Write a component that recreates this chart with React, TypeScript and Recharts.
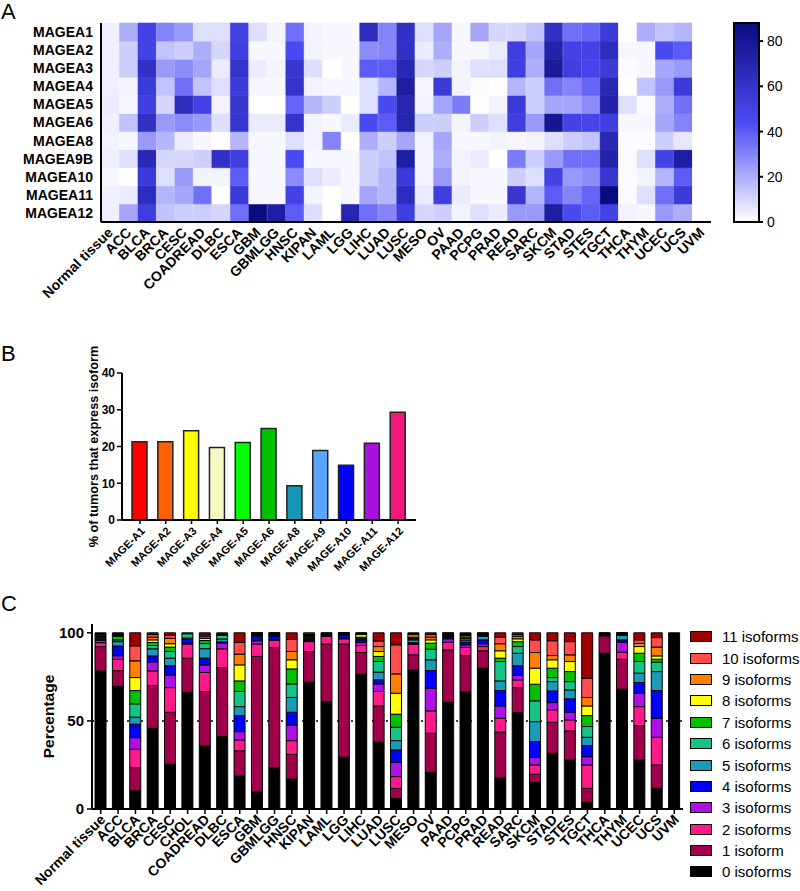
import React from 'react'
import { BarChart, Bar, Cell, XAxis, YAxis, CartesianGrid, Legend } from 'recharts'

const FONT = '"Liberation Sans", Arial, sans-serif'

// ---- Panel A: heatmap ----
const heatTumors = ['Normal tissue', 'ACC', 'BLCA', 'BRCA', 'CESC', 'COADREAD', 'DLBC', 'ESCA', 'GBM', 'GBMLGG', 'HNSC', 'KIPAN', 'LAML', 'LGG', 'LIHC', 'LUAD', 'LUSC', 'MESO', 'OV', 'PAAD', 'PCPG', 'PRAD', 'READ', 'SARC', 'SKCM', 'STAD', 'STES', 'TGCT', 'THCA', 'THYM', 'UCEC', 'UCS', 'UVM']
const MAGEA1 = [4, 20, 50, 30, 25, 8, 8, 50, 8, 3, 35, 3, 2, 2, 65, 30, 62, 8, 22, 2, 22, 10, 10, 15, 62, 35, 38, 55, 0, 20, 15, 18, 0]
const MAGEA2 = [4, 12, 50, 15, 12, 20, 10, 52, 2, 2, 45, 3, 2, 2, 28, 30, 62, 5, 20, 2, 2, 5, 52, 22, 72, 50, 50, 65, 2, 2, 45, 40, 0]
const MAGEA3 = [4, 12, 62, 25, 28, 22, 5, 60, 5, 3, 58, 8, 0, 2, 40, 40, 68, 10, 12, 3, 8, 8, 52, 20, 78, 52, 48, 55, 1, 2, 22, 25, 0]
const MAGEA4 = [4, 3, 55, 15, 35, 15, 8, 55, 2, 2, 60, 3, 2, 2, 8, 18, 75, 2, 55, 3, 1, 0, 18, 12, 35, 30, 38, 68, 0, 15, 25, 55, 0]
const MAGEA5 = [5, 2, 52, 10, 65, 50, 3, 58, 0, 0, 38, 18, 12, 0, 8, 45, 70, 3, 22, 32, 0, 3, 55, 12, 22, 22, 28, 72, 8, 1, 20, 35, 0]
const MAGEA6 = [4, 15, 62, 25, 28, 25, 8, 58, 5, 5, 60, 3, 2, 5, 45, 40, 70, 12, 12, 3, 12, 8, 52, 25, 80, 50, 48, 52, 2, 2, 22, 30, 0]
const MAGEA8 = [3, 2, 25, 18, 5, 2, 0, 18, 2, 2, 8, 3, 30, 0, 20, 12, 22, 3, 22, 2, 2, 3, 2, 3, 8, 12, 15, 68, 1, 1, 12, 6, 0]
const MAGEA9B = [4, 8, 68, 10, 10, 12, 62, 52, 2, 2, 45, 2, 2, 2, 12, 15, 75, 3, 20, 3, 5, 0, 32, 12, 25, 35, 35, 72, 1, 8, 50, 75, 0]
const MAGEA10 = [2, 0, 55, 8, 25, 3, 3, 40, 2, 2, 28, 8, 5, 2, 12, 18, 55, 3, 25, 3, 2, 2, 12, 8, 50, 25, 28, 58, 1, 3, 18, 40, 0]
const MAGEA11 = [4, 5, 65, 18, 22, 35, 0, 55, 2, 2, 50, 3, 0, 2, 22, 18, 65, 5, 52, 5, 2, 2, 58, 18, 40, 30, 38, 88, 1, 8, 35, 55, 0]
const MAGEA12 = [4, 22, 52, 15, 12, 12, 10, 35, 88, 75, 40, 8, 0, 70, 35, 30, 52, 10, 12, 3, 8, 5, 25, 25, 75, 45, 40, 50, 3, 2, 25, 20, 0]
// bottom to top
const geneNames = ['MAGEA12', 'MAGEA11', 'MAGEA10', 'MAGEA9B', 'MAGEA8', 'MAGEA6', 'MAGEA5', 'MAGEA4', 'MAGEA3', 'MAGEA2', 'MAGEA1']
const geneRows = [MAGEA12, MAGEA11, MAGEA10, MAGEA9B, MAGEA8, MAGEA6, MAGEA5, MAGEA4, MAGEA3, MAGEA2, MAGEA1]
const heatMax = 88
const heatTicks = [0, 20, 40, 60, 80]

// ---- Panel B ----
const isoNames = ['MAGE-A1', 'MAGE-A2', 'MAGE-A3', 'MAGE-A4', 'MAGE-A5', 'MAGE-A6', 'MAGE-A8', 'MAGE-A9', 'MAGE-A10', 'MAGE-A11', 'MAGE-A12']
const isoPct = [21.3, 21.3, 24.3, 19.7, 21.1, 24.9, 9.3, 18.9, 14.9, 20.9, 29.3]
const isoColors = ['#ff0000', '#ff6000', '#ffff00', '#f6f8c4', '#00ff00', '#00c000', '#1496b4', '#5aa5ff', '#0000ff', '#a812e0', '#f0187c']

// ---- Panel C ----
const stackTumors = ['Normal tissue', 'ACC', 'BLCA', 'BRCA', 'CESC', 'CHOL', 'COADREAD', 'DLBC', 'ESCA', 'GBM', 'GBMLGG', 'HNSC', 'KIPAN', 'LAML', 'LGG', 'LIHC', 'LUAD', 'LUSC', 'MESO', 'OV', 'PAAD', 'PCPG', 'PRAD', 'READ', 'SARC', 'SKCM', 'STAD', 'STES', 'TGCT', 'THCA', 'THYM', 'UCEC', 'UCS', 'UVM']
const iso0 = [78.4, 69.5, 10.4, 45.8, 25.4, 66.3, 35.8, 41.1, 18.8, 9.8, 23.5, 17, 72, 61, 29.4, 76.5, 37.9, 6, 79, 20.8, 60.6, 66.7, 80, 17.8, 54.7, 15, 31.6, 27.8, 3.8, 88.4, 68, 27.8, 11.7, 100]
const iso1 = [13.8, 9, 13.1, 24.3, 29.5, 19.3, 30.9, 39.2, 14.2, 76.8, 68.2, 14, 17.4, 32.6, 64.2, 12.3, 20.6, 5.7, 8.5, 22.2, 29.7, 20.4, 9.8, 25.8, 14.2, 4.7, 17.6, 16.5, 7.9, 9.9, 17, 19.5, 13.3, 0]
const iso2 = [2.2, 6.5, 10.4, 8.3, 14, 8, 10.8, 10.6, 6.2, 7, 4, 7.8, 5.6, 4.3, 3, 4, 8.2, 6.7, 5.9, 12.7, 4.4, 4.6, 2.4, 7.9, 4.4, 5.3, 7.1, 6.3, 13.3, 0.3, 4, 10.8, 15.7, 0]
const iso3 = [1.4, 2, 6.6, 5.1, 7.2, 0.5, 4.3, 3.4, 4.7, 1.9, 0.5, 8.9, 0.5, 0.3, 0.5, 1.7, 4.3, 8.1, 0.5, 12.9, 1.9, 1.5, 1.6, 7, 2.5, 4.2, 4.1, 4.3, 4.7, 0.2, 5.7, 7.6, 10.8, 0]
const iso4 = [0.8, 5.5, 7.6, 3.4, 5.2, 2.4, 3.8, 0.5, 9.1, 2.5, 2, 7.2, 0.5, 0.3, 1.5, 1.5, 2.3, 7, 0.5, 10, 0.8, 1.5, 2.2, 8.7, 5.5, 9.1, 6.6, 7.6, 6.3, 0.2, 1.3, 6.1, 15.7, 0]
const iso5 = [0.6, 2.5, 4, 4, 4.3, 0.5, 5.4, 1.7, 5.1, 0.5, 0.5, 8.4, 0.5, 0.3, 0.4, 0.5, 4.4, 5.3, 1.6, 6.1, 0.5, 1.2, 2, 5.5, 7.1, 11.3, 5.3, 5.1, 4.7, 0.2, 2.5, 5.3, 10.8, 0]
const iso6 = [0.6, 1, 7.6, 1.9, 3.8, 2.5, 2.9, 2, 8.6, 0.5, 0.3, 7.7, 0.5, 0.3, 0.3, 0.5, 6, 7.6, 0.5, 6, 0.5, 1, 0.5, 11, 3.8, 11.8, 2.3, 4.7, 6.1, 0.2, 0.5, 6.6, 5.3, 0]
const iso7 = [0.5, 2, 7.5, 1.7, 2.5, 0.5, 1.7, 0.5, 6, 0.3, 0.3, 8.5, 0.5, 0.3, 0.2, 0.5, 2.9, 7.4, 0.5, 3.4, 0.5, 0.8, 0.5, 1.9, 2.8, 9.4, 5.3, 5.7, 6.2, 0.1, 0.3, 4.7, 1.7, 0]
const iso8 = [0.5, 0.5, 7.4, 1.5, 1.9, 0, 1.2, 0.5, 9.1, 0.2, 0.2, 5.2, 0.5, 0.2, 0.2, 1.5, 2.8, 11.9, 0.5, 1.9, 0.3, 0.8, 0.3, 4.2, 1.6, 9.1, 4.8, 5.7, 5.5, 0.1, 0.2, 3.8, 1.9, 0]
const iso9 = [0.4, 0.5, 9.5, 1.5, 3.1, 0, 1, 0.5, 6.1, 0.2, 0.2, 4.7, 0.5, 0.2, 0.1, 0.5, 2.8, 11, 1.5, 1.5, 0.3, 0.5, 0.3, 4, 1.4, 8.9, 2.4, 3.8, 4.8, 0.1, 0.2, 1.8, 5, 0]
const iso10 = [0.4, 0.5, 8.5, 1.5, 1.6, 0, 1, 0, 6.6, 0.2, 0.2, 6.8, 0.5, 0.2, 0.1, 0.3, 3.1, 16.5, 0.5, 1.5, 0.3, 0.5, 0.2, 3.7, 1, 7.2, 8.4, 7.5, 10.9, 0.1, 0.2, 2, 5.4, 0]
const iso11 = [0.4, 0.5, 7.4, 1, 1.5, 0, 1.2, 0, 5.5, 0.1, 0.1, 3.8, 1, 0, 0.1, 0.2, 4.7, 6.8, 0.5, 1, 0.2, 0.5, 0.2, 2.5, 1, 4, 4.5, 5, 25.8, 0.2, 0.1, 4, 2.7, 0]
const isoSeries = [iso0, iso1, iso2, iso3, iso4, iso5, iso6, iso7, iso8, iso9, iso10, iso11]
const isoLabels = ['0 isoforms', '1 isoform', '2 isoforms', '3 isoforms', '4 isoforms', '5 isoforms', '6 isoforms', '7 isoforms', '8 isoforms', '9 isoforms', '10 isoforms', '11 isoforms']
const isoFill = ['#000000', '#a0004a', '#ff1a8c', '#b010e8', '#0000ff', '#1a9bb8', '#14c487', '#00c000', '#ffff00', '#ff8000', '#ff4d4d', '#a00000']

// white -> blue -> navy
const colorStops: [number, number[]][] = [
  [0, [255, 255, 255]],
  [44, [75, 75, 245]],
  [88, [11, 11, 128]],
]
function heatColor(v: number) {
  for (let i = 1; i < colorStops.length; i++) {
    const [v1, c1] = colorStops[i]
    const [v0, c0] = colorStops[i - 1]
    if (v <= v1 || i === colorStops.length - 1) {
      const t = Math.max(0, Math.min(1, (v - v0) / (v1 - v0)))
      const c = c0.map((a, k) => Math.round(a + (c1[k] - a) * t))
      return `rgb(${c[0]},${c[1]},${c[2]})`
    }
  }
  return '#fff'
}

const heatData = heatTumors.map((name, i) => {
  const row: Record<string, any> = { name }
  geneRows.forEach((arr, j) => {
    row['u' + j] = 1
    row['v' + j] = arr[i]
  })
  return row
})

const barData = isoNames.map((name, i) => ({ name, pct: isoPct[i] }))

const stackData = stackTumors.map((name, i) => {
  const row: Record<string, any> = { name }
  isoSeries.forEach((arr, k) => { row['i' + k] = arr[i] })
  return row
})

const RotTick = (props: any) => {
  const { x, y, payload, fontSize, shiftX = 0, shiftY = 0 } = props
  return (
    <g transform={`translate(${x + shiftX},${y + shiftY})`}>
      <text transform="rotate(-45)" textAnchor="end" dy="0.35em" fontSize={fontSize} fontWeight="bold" fill="#000" fontFamily={FONT}>
        {payload.value}
      </text>
    </g>
  )
}

const axisLine = { stroke: '#000', strokeWidth: 2 }

function Heatmap() {
  return (
    <BarChart width={720} height={330} data={heatData} margin={{ top: 23, right: 9, left: 0, bottom: 0 }} barCategoryGap={0}>
      <XAxis dataKey="name" interval={0} height={108} tickLine={false} axisLine={axisLine} tick={<RotTick fontSize={14} />} />
      <XAxis xAxisId="top" orientation="top" dataKey="name" height={0} tick={false} tickLine={false} axisLine={axisLine} />
      <YAxis
        type="number"
        domain={[0, 11]}
        ticks={geneNames.map((_, j) => j + 0.5)}
        interval={0}
        tickFormatter={(v) => geneNames[Math.floor(v)]}
        width={101}
        tickLine={false}
        axisLine={axisLine}
        tick={{ fontSize: 14, fontWeight: 'bold', fill: '#000', fontFamily: FONT }}
      />
      <YAxis yAxisId="right" orientation="right" type="number" domain={[0, 11]} width={0} tick={false} tickLine={false} axisLine={axisLine} />
      {geneNames.map((g, j) => (
        <Bar key={g} dataKey={'u' + j} stackId="h" isAnimationActive={false}>
          {heatData.map((d, i) => (
            <Cell key={i} fill={heatColor(d['v' + j])} stroke={heatColor(d['v' + j])} strokeWidth={0.6} />
          ))}
        </Bar>
      ))}
    </BarChart>
  )
}

function ColorBar() {
  return (
    <BarChart width={80} height={240} data={[{ name: 'scale', max: heatMax }]} margin={{ top: 23, right: 0, left: 14, bottom: 18 }} barCategoryGap={0}>
      <defs>
        <linearGradient id="hmGrad" x1="0" y1="1" x2="0" y2="0">
          {colorStops.map(([v, c]) => (
            <stop key={v} offset={v / heatMax} stopColor={`rgb(${c[0]},${c[1]},${c[2]})`} />
          ))}
        </linearGradient>
      </defs>
      <XAxis dataKey="name" hide />
      <YAxis
        orientation="right"
        type="number"
        domain={[0, heatMax]}
        ticks={heatTicks}
        interval={0}
        width={41}
        axisLine={false}
        tickSize={4}
        tickMargin={4}
        tickLine={{ stroke: '#000', strokeWidth: 2 }}
        tick={{ fontSize: 14, fill: '#000', fontFamily: FONT }}
      />
      <Bar dataKey="max" fill="url(#hmGrad)" stroke="#000" strokeWidth={2} isAnimationActive={false} />
    </BarChart>
  )
}

function PctBars() {
  return (
    <BarChart width={430} height={260} data={barData} margin={{ top: 43, right: 14, left: 0, bottom: 0 }}>
      <XAxis
        dataKey="name"
        interval={0}
        height={70}
        padding={{ left: 5, right: 5 }}
        axisLine={axisLine}
        tickSize={4}
        tickLine={{ stroke: '#000', strokeWidth: 1.5 }}
        tick={<RotTick fontSize={11} shiftX={3} shiftY={3} />}
      />
      <YAxis
        type="number"
        domain={[0, 40]}
        ticks={[0, 10, 20, 30, 40]}
        interval={0}
        width={122}
        axisLine={axisLine}
        tickSize={5}
        tickMargin={2}
        tickLine={{ stroke: '#000', strokeWidth: 1.5 }}
        tick={{ fontSize: 12, fontWeight: 'bold', fill: '#000', fontFamily: FONT }}
        label={{ value: '% of tumors that express isoform', angle: -90, position: 'center', dx: 32, style: { fontSize: 12.7, fontWeight: 'bold', fill: '#000', fontFamily: FONT } }}
      />
      <Bar dataKey="pct" barSize={15} stroke="#222" strokeWidth={1.5} isAnimationActive={false}>
        {barData.map((d, i) => (
          <Cell key={d.name} fill={isoColors[i]} />
        ))}
      </Bar>
    </BarChart>
  )
}

const StackLegend = () => (
  <div style={{ fontFamily: FONT, fontSize: 15, color: '#000' }}>
    {isoLabels.map((l, k) => ({ l, k })).reverse().map(({ l, k }) => (
      <div key={l} style={{ display: 'flex', alignItems: 'center', height: 21.4, whiteSpace: 'nowrap' }}>
        <span style={{ width: 20, height: 9, background: isoFill[k], border: '1.5px solid #000', marginRight: 10, boxSizing: 'content-box' }} />
        <span>{l}</span>
      </div>
    ))}
  </div>
)

function IsoStack() {
  return (
    <BarChart width={800} height={281} data={stackData} margin={{ top: 14, right: 117, left: 0, bottom: 0 }}>
      <CartesianGrid vertical={false} horizontalValues={[50]} stroke="#000" strokeWidth={1.5} strokeDasharray="2 5" />
      <XAxis
        dataKey="name"
        interval={0}
        height={82}
        axisLine={axisLine}
        tickSize={5}
        tickLine={{ stroke: '#000', strokeWidth: 1.5 }}
        tick={<RotTick fontSize={14} shiftX={2} shiftY={1} />}
      />
      <YAxis
        type="number"
        domain={[0, 105]}
        ticks={[0, 50, 100]}
        interval={0}
        width={92}
        axisLine={axisLine}
        tickSize={5}
        tickMargin={3}
        tickLine={{ stroke: '#000', strokeWidth: 1.5 }}
        tick={{ fontSize: 15, fontWeight: 'bold', fill: '#000', fontFamily: FONT }}
        label={{ value: 'Percentage', angle: -90, position: 'center', dx: 2, style: { fontSize: 15.5, fontWeight: 'bold', fill: '#000', fontFamily: FONT } }}
      />
      {isoSeries.map((_, k) => (
        <Bar key={k} dataKey={'i' + k} name={isoLabels[k]} stackId="s" barSize={11} fill={isoFill[k]} stroke="#000" strokeWidth={1} isAnimationActive={false} />
      ))}
      <Legend layout="horizontal" verticalAlign="middle" align="center" content={<StackLegend />} wrapperStyle={{ left: 690, top: 16, width: 110 }} />
    </BarChart>
  )
}

const panelLabel: React.CSSProperties = { position: 'absolute', fontFamily: FONT, fontSize: 22, color: '#000', lineHeight: 1 }

export default function App() {
  return (
    <div style={{ position: 'relative', width: 800, height: 891, background: '#fff', overflow: 'hidden' }}>
      <style>{'body{margin:0}'}</style>
      <div style={{ ...panelLabel, left: 1, top: 1 }}>A</div>
      <div style={{ ...panelLabel, left: 1, top: 343 }}>B</div>
      <div style={{ ...panelLabel, left: 1, top: 593 }}>C</div>
      <div style={{ position: 'absolute', left: 0, top: 0 }}><Heatmap /></div>
      <div style={{ position: 'absolute', left: 720, top: 0 }}><ColorBar /></div>
      <div style={{ position: 'absolute', left: 0, top: 330 }}><PctBars /></div>
      <div style={{ position: 'absolute', left: 0, top: 610 }}><IsoStack /></div>
    </div>
  )
}
